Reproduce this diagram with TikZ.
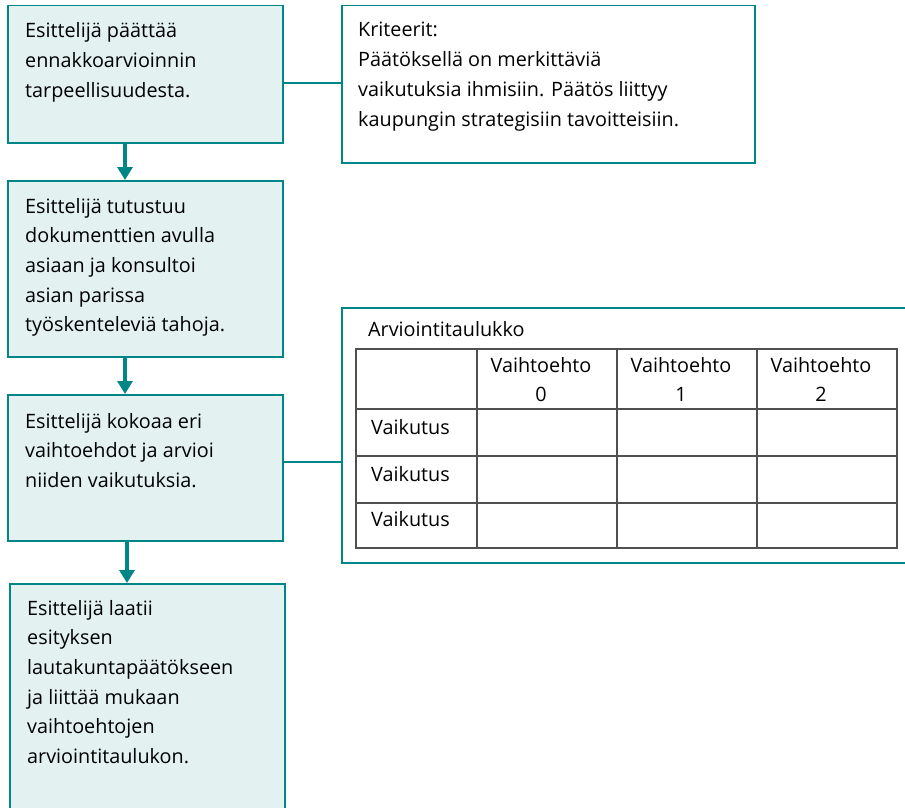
\documentclass[tikz,border=0pt]{standalone}
\usepackage{fontspec}
\setmainfont{Open Sans}
\usetikzlibrary{arrows.meta}
\definecolor{teal1}{RGB}{0,134,134}
\definecolor{fill1}{RGB}{227,241,241}
\definecolor{grid1}{RGB}{80,80,80}
\newcommand{\lefttxt}[1]{\begin{tabular}[t]{@{}l@{}}#1\end{tabular}}
\newcommand{\centtxt}[1]{\begin{tabular}[t]{@{}c@{}}#1\end{tabular}}
\begin{document}
\begin{tikzpicture}[x=1pt,y=-1pt,
  stepbox/.style={draw=teal1,line width=1.5pt,fill=fill1,rectangle,inner sep=0,anchor=north west},
  infobox/.style={draw=teal1,line width=1.5pt,fill=white,rectangle,inner sep=0,anchor=north west},
  txt/.style={anchor=base west,inner sep=0,font=\fontsize{19.8}{29.7}\selectfont},
  ctxt/.style={anchor=base,inner sep=0,font=\fontsize{19.8}{29.7}\selectfont},
  flow/.style={draw=teal1,line width=3.2pt,-{Triangle[width=15pt,length=13pt]}},
  link/.style={draw=teal1,line width=1.5pt},
  gridl/.style={draw=grid1,line width=1.3pt}]
\useasboundingbox (0,0) rectangle (905,808);
% left flow boxes
\node[stepbox,minimum width=275pt,minimum height=137pt] (b1) at (7,5) {};
\node[stepbox,minimum width=275pt,minimum height=176pt] (b2) at (7,180) {};
\node[stepbox,minimum width=275pt,minimum height=146pt] (b3) at (7,394) {};
\node[stepbox,minimum width=275pt,minimum height=240pt] (b4) at (9,583) {};
\node[txt] (t1) at (25,38) {\lefttxt{Esittelijä päättää\\ennakkoarvioinnin\\tarpeellisuudesta.}};
\node[txt] (t2) at (25,213) {\lefttxt{Esittelijä tutustuu\\dokumenttien avulla\\asiaan ja konsultoi\\asian parissa\\työskenteleviä tahoja.}};
\node[txt] (t3) at (25,428) {\lefttxt{Esittelijä kokoaa eri\\vaihtoehdot ja arvioi\\niiden vaikutuksia.}};
\node[txt] (t4) at (27,615) {\lefttxt{Esittelijä laatii\\esityksen\\lautakuntapäätökseen\\ja liittää mukaan\\vaihtoehtojen\\arviointitaulukon.}};
% flow arrows
\draw[flow] (b1.south -| 125,0) -- (b2.north -| 125,0);
\draw[flow] (b2.south -| 125,0) -- (b3.north -| 125,0);
\draw[flow] (b3.south -| 127,0) -- (b4.north -| 127,0);
% criteria box
\node[infobox,minimum width=413pt,minimum height=157pt] (k) at (341,5) {};
\node[txt] (kt) at (358,37) {\lefttxt{Kriteerit:\\Päätöksellä on merkittäviä\\vaikutuksia ihmisiin. Päätös liittyy\\kaupungin strategisiin tavoitteisiin.}};
\draw[link] (b1.east |- 0,83) -- (k.west |- 0,83);
% table box (open on the right)
\node[infobox,minimum width=580pt,minimum height=255pt] (tb) at (341,307) {};
\draw[link] (b3.east |- 0,462) -- (tb.west |- 0,462);
\node[txt] (tt) at (368,336) {Arviointitaulukko};
% table grid
\coordinate (g00) at (356,349);
\coordinate (g11) at (897,548);
\draw[gridl] (g00) rectangle (g11);
\foreach \yy in {409,456,503} \draw[gridl] (356,\yy) -- (897,\yy);
\foreach \xx in {477,617,757} \draw[gridl] (\xx,349) -- (\xx,548);
\node[ctxt] (h0) at (541,372) {\centtxt{Vaihtoehto\\0}};
\node[ctxt] (h1) at (681,372) {\centtxt{Vaihtoehto\\1}};
\node[ctxt] (h2) at (821,372) {\centtxt{Vaihtoehto\\2}};
\node[txt] (r1) at (371,434) {Vaikutus};
\node[txt] (r2) at (371,481) {Vaikutus};
\node[txt] (r3) at (371,526) {Vaikutus};
\end{tikzpicture}
\end{document}
